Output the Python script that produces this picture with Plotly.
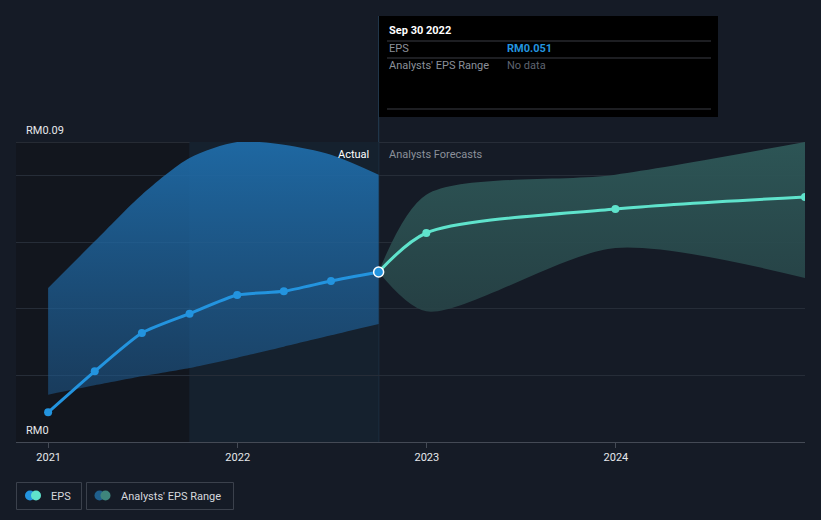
import plotly.graph_objects as go

# ---------------- data ----------------
actual_dates = ["2020-12-31", "2021-03-31", "2021-06-30", "2021-09-30",
                "2021-12-31", "2022-03-31", "2022-06-30", "2022-09-30"]
actual_eps = [0.0089, 0.0212, 0.0327, 0.0385, 0.0441, 0.0452, 0.0483, 0.051]
actual_high = [0.0462, 0.0602, 0.0742, 0.0852, 0.0900, 0.0892, 0.0862, 0.0802]
actual_low = [0.0142, 0.0170, 0.0197, 0.0222, 0.0253, 0.0286, 0.0320, 0.0354]

fc_dates = ["2022-09-30", "2022-12-31", "2023-12-31", "2024-12-31"]
fc_eps = [0.051, 0.0627, 0.0699, 0.0735]
fc_high = [0.051, 0.0742, 0.0802, 0.0900]
fc_low = [0.051, 0.0392, 0.0582, 0.0492]

year_ticks = ["2021-01-01", "2022-01-01", "2023-01-01", "2024-01-01"]
year_labels = ["2021", "2022", "2023", "2024"]
grid_vals = [0, 0.02, 0.04, 0.06, 0.08]

# ---------------- layout helpers ----------------
W, H = 821, 520
L, R, T, B = 16, 805, 142, 442


def px(x):
    return (x - L) / (R - L)


def py(y):
    return (B - y) / (B - T)


BG = "#151b26"
BLUE = "#2394df"
MINT = "#5fe3cc"
FONT = "Roboto, 'Open Sans', sans-serif"

fig = go.Figure()

# blue range area (actual period)
fig.add_trace(go.Scatter(x=actual_dates, y=actual_low, mode="lines",
                         line=dict(width=0, shape="spline", smoothing=0.6),
                         hoverinfo="skip", showlegend=False))
fig.add_trace(go.Scatter(x=actual_dates, y=actual_high, mode="lines",
                         line=dict(width=0, shape="spline", smoothing=0.8),
                         fill="tonexty",
                         fillgradient=dict(type="vertical",
                                           colorscale=[[0, "rgba(30,85,135,0.5)"],
                                                       [1, "rgba(31,110,172,0.92)"]],
                                           start=0.0, stop=0.09),
                         hoverinfo="skip", showlegend=False))

# green range area (forecast)
fig.add_trace(go.Scatter(x=fc_dates, y=fc_low, mode="lines",
                         line=dict(width=0, shape="spline", smoothing=0.8),
                         hoverinfo="skip", showlegend=False))
fig.add_trace(go.Scatter(x=fc_dates, y=fc_high, mode="lines",
                         line=dict(width=0, shape="spline", smoothing=0.8),
                         fill="tonexty",
                         fillgradient=dict(type="vertical",
                                           colorscale=[[0, "rgba(38,64,68,0.9)"],
                                                       [1, "rgba(46,88,88,0.95)"]],
                                           start=0.03, stop=0.09),
                         hoverinfo="skip", showlegend=False))

# forecast EPS line
fig.add_trace(go.Scatter(x=fc_dates[1:], y=fc_eps[1:], mode="markers",
                         marker=dict(size=8, color=MINT),
                         hoverinfo="skip", showlegend=False))
fig.add_trace(go.Scatter(x=fc_dates, y=fc_eps, mode="lines",
                         line=dict(width=3, color=MINT, shape="spline", smoothing=0.8),
                         hoverinfo="skip", showlegend=False))

# actual EPS line
fig.add_trace(go.Scatter(x=actual_dates, y=actual_eps, mode="lines+markers",
                         line=dict(width=3, color=BLUE, shape="spline", smoothing=0.6),
                         marker=dict(size=8, color=BLUE),
                         hoverinfo="skip", showlegend=False))
fig.add_trace(go.Scatter(x=[actual_dates[-1]], y=[actual_eps[-1]], mode="markers",
                         marker=dict(size=10, color=BLUE, line=dict(color="white", width=1.5)),
                         hoverinfo="skip", showlegend=False))

shapes = []
# darker left region and highlighted past year
shapes.append(dict(type="rect", xref="paper", yref="y", layer="below",
                   x0=0, x1=px(189), y0=0, y1=0.09,
                   fillcolor="#12161e", line=dict(width=0)))
shapes.append(dict(type="rect", xref="x", yref="y", layer="below",
                   x0="2021-09-30", x1="2022-09-30", y0=0, y1=0.09,
                   fillcolor="#15212e", line=dict(width=0)))
# top gridline
shapes.append(dict(type="line", xref="paper", yref="y", x0=0, x1=1, y0=0.09, y1=0.09,
                   line=dict(color="#3a404b", width=1), layer="below"))
# vertical "now" line
shapes.append(dict(type="line", xref="x", yref="paper", x0="2022-09-30", x1="2022-09-30",
                   y0=0, y1=py(16), line=dict(color="#22384d", width=1.2), layer="below"))
# tooltip box
shapes.append(dict(type="rect", xref="paper", yref="paper",
                   x0=px(379), x1=px(718), y0=py(117), y1=py(16),
                   fillcolor="#000000", line=dict(width=0)))
for yy in (41, 58, 109):
    shapes.append(dict(type="line", xref="paper", yref="paper",
                       x0=px(387), x1=px(711), y0=py(yy), y1=py(yy),
                       line=dict(color="#3a3d44", width=1)))
# legend boxes
for (a, b) in ((16.5, 81.5), (86.5, 233.5)):
    shapes.append(dict(type="rect", xref="paper", yref="paper",
                       x0=px(a), x1=px(b), y0=py(509.5), y1=py(482.5),
                       fillcolor="rgba(0,0,0,0)", line=dict(color="#3b414c", width=1)))


def dot(cx, cy, r, color):
    return dict(type="circle", xref="paper", yref="paper",
                x0=px(cx - r), x1=px(cx + r), y0=py(cy + r), y1=py(cy - r),
                fillcolor=color, line=dict(width=0))


shapes += [dot(30, 495.5, 5, BLUE), dot(36, 495.5, 5, MINT),
           dot(99.5, 495.5, 5, "#1f5f8c"), dot(105.5, 495.5, 5, "#3e857c")]

annotations = []


def txt(x, y, s, color, size=11, anchor="left", bold=False):
    annotations.append(dict(xref="paper", yref="paper", x=px(x), y=py(y),
                            text=f"<b>{s}</b>" if bold else s, showarrow=False,
                            xanchor=anchor, yanchor="middle",
                            font=dict(family=FONT, size=size, color=color)))


txt(24, 130, "RM0.09", "#e6e8eb")
txt(24, 430, "RM0", "#e6e8eb")
txt(371, 154, "Actual", "#ffffff", anchor="right")
txt(387, 154, "Analysts Forecasts", "#8b909a")
txt(387, 31, "Sep 30 2022", "#ffffff", bold=True)
txt(387, 49, "EPS", "#8b909a")
txt(505, 49, "RM0.051", BLUE, bold=True)
txt(387, 66, "Analysts' EPS Range", "#8b909a")
txt(505, 66, "No data", "#5f6470")
txt(49, 496, "EPS", "#d5d8dd")
txt(119, 496, "Analysts' EPS Range", "#d5d8dd")

fig.update_layout(
    width=W, height=H,
    margin=dict(l=L, r=W - R, t=T, b=H - B, pad=0),
    paper_bgcolor=BG, plot_bgcolor=BG,
    showlegend=False,
    shapes=shapes, annotations=annotations,
    font=dict(family=FONT, color="#e6e8eb"),
    xaxis=dict(type="date", range=["2020-10-30", "2024-12-31"],
               tickvals=year_ticks, ticktext=year_labels,
               ticks="outside", ticklen=5, tickcolor="#444a55",
               tickfont=dict(size=11, color="#e6e8eb", family=FONT),
               showgrid=False, zeroline=False, fixedrange=True,
               showline=True, linecolor="#444a55", linewidth=1),
    yaxis=dict(range=[0, 0.09], tickvals=grid_vals, showticklabels=False,
               showgrid=True, gridcolor="#262d38", gridwidth=1,
               zeroline=False, showline=False, fixedrange=True),
)

fig.write_html("out.html",
               config={"displayModeBar": False, "staticPlot": True},
               post_script="document.body.style.margin='0';document.body.style.padding='0';"
                           "document.documentElement.style.background='#151b26';")
